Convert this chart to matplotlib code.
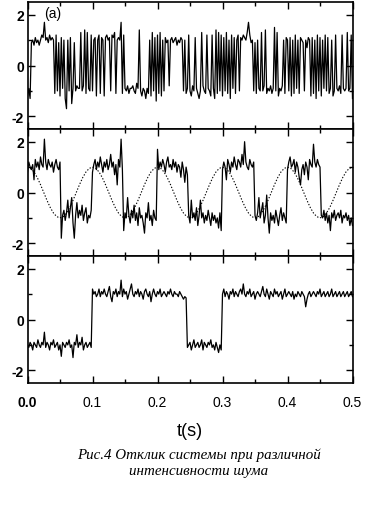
import numpy as np
import matplotlib
matplotlib.use("Agg")
import matplotlib.pyplot as plt
from matplotlib.ticker import MultipleLocator

# ---------------- data ----------------
dt = 0.002  # sampling step of the traces (s)

# panel (a): strong noise, fast hopping between the two wells
sig_a = [
    -1.2, -0.9, -1.3, 0.9, 1.0, 0.8, 1.1, 0.9, 1.0, 0.8,
    1.0, 1.2, 1.1, 1.7, 1.0, 1.1, 0.9, 1.2, 1.0, 1.1,
    1.0, -1.1, 1.2, -1.0, 0.9, -1.2, 1.1, -0.9, 1.0, -1.3,
    -1.7, 1.0, -1.0, 1.1, -1.5, -0.9, 0.9, -1.0, -0.8, -0.9,
    -0.9, 1.3, -1.0, -0.8, 1.4, -1.1, 1.3, -0.9, -1.0, 1.2,
    -1.0, 1.0, 1.1, -1.2, 1.0, 1.2, -1.1, 1.1, 1.0, -1.2,
    1.1, 1.2, 1.0, 1.1, -1.0, 1.2, 1.1, 1.3, -1.1, 1.0,
    1.1, 1.0, 1.7, -1.1, 1.2, -0.9, -1.0, -0.8, -1.1, -0.9,
    -0.9, -0.8, -1.0, -1.1, -0.7, -0.9, 1.4, -1.0, -1.2, -0.9,
    -1.0, -1.3, -0.9, -1.1, 1.0, -1.2, 1.3, -1.0, 1.1, -1.4,
    1.2, -1.1, 1.3, -1.2, 1.0, -1.0, 1.1, 0.9, 1.0, -0.8,
    1.0, 1.1, 0.9, 1.0, 1.1, 0.8, 1.0, 0.9, 1.1, 1.0,
    -1.0, 1.0, -1.1, -0.9, 1.2, -1.0, -1.2, -0.8, -1.0, 1.1,
    -0.9, -1.1, -1.3, -1.0, 1.3, -0.8, -1.0, -1.1, 1.2, -0.9,
    -1.0, -1.2, 1.2, -0.9, -1.3, 1.4, -1.1, 1.3, -1.0, 1.2,
    -1.2, 1.1, -1.0, 1.3, -1.1, 1.0, -1.3, 1.2, -0.9, 1.1,
    -1.1, 1.0, 1.2, -1.0, 1.1, 1.0, 1.2, 1.1, 1.0, 1.3,
    1.7, 1.2, 0.9, 1.0, -1.0, 0.9, -1.1, 1.0, -0.9, -1.0,
    1.3, -1.0, -0.8, 1.4, -1.1, -0.9, -1.0, -0.8, -1.1, -0.9,
    1.5, -1.0, 1.3, -1.2, -0.9, -1.0, -0.8, 1.0, -1.1, 1.1,
    1.0, -1.0, 1.1, -1.2, 1.0, -1.1, 1.2, -0.9, 1.0, -1.1,
    1.1, 1.0, 0.9, -1.0, 1.0, 0.7, 1.1, 1.0, -1.2, 1.1,
    -1.1, 1.0, -1.3, 1.2, -1.0, 1.1, -1.2, 1.0, -0.9, 1.2,
    -1.0, 1.1, -1.1, -0.9, 1.0, -1.2, -1.0, 1.2, -0.9, -1.0,
    -0.8, -1.1, 1.2, -0.9, -1.0, -0.9, 1.3, -1.0, -0.9, 1.2,
    -1.3,
]

# panel 2: optimal noise, switching locked to the periodic drive
sig_b = [
    0.8, 1.2, 1.0, 0.9, 1.1, 0.5, 1.3, 1.0, 1.2, 0.9,
    1.4, 1.1, 1.0, 2.1, 1.2, 0.9, 1.3, 1.1, 1.0, 1.2,
    0.8, 1.1, 1.3, 1.0, 0.9, 1.2, -1.8, -0.9, -0.7, -1.1,
    -0.8, -0.3, -1.0, -0.6, -0.2, -1.2, -1.8, -0.9, -0.4, -1.0,
    -0.7, -0.9, -0.5, -1.1, -0.8, -0.6, -1.2, -0.9, -1.0, -0.7,
    0.8, 1.1, 1.3, 0.9, 1.2, 1.0, 1.4, 1.1, 0.8, 1.2,
    1.0, 1.3, 0.9, 1.1, 1.5, 1.0, 1.2, 0.7, 1.1, 0.3,
    1.3, 1.0, 2.1, 0.9, -1.5, -0.8, -1.0, -0.2, -0.9, -1.2,
    -0.7, -1.0, -0.5, -1.1, -0.8, -1.3, -0.6, -1.0, -0.9, -1.2,
    -1.6, -0.8, -1.0, -0.4, -1.1, -0.9, -1.3, -0.7, -1.0, -1.1,
    1.7, 0.9, 1.2, 1.0, 1.3, 1.1, 0.8, 1.2, 1.4, 1.0,
    1.1, 0.9, 1.3, 1.0, 1.2, 0.8, 1.1, 1.0, 0.6, 1.2,
    0.9, 0.4, 1.0, 0.7, -0.9, -1.2, -0.3, -1.0, -0.8, -1.1,
    -0.6, -1.3, -0.9, -0.3, -1.0, -0.8, -1.2, -0.9, -1.1, -0.7,
    -1.0, -1.3, -0.8, -1.1, -0.9, -1.2, -1.0, -1.4, -0.8, -1.5,
    0.9, 1.2, 1.0, 0.5, 1.3, 1.1, 0.8, 1.2, 1.0, 1.4,
    1.1, 0.9, 1.3, 1.2, 1.0, 1.5, 1.1, 2.0, 1.2, 1.0,
    0.9, 1.3, 1.1, 1.0, 1.2, -0.9, -1.1, -0.8, -0.2, -1.0,
    -0.7, -0.4, -1.2, -0.9, -0.1, -1.0, -1.6, -0.8, -1.1, -0.9,
    -1.2, -0.7, -1.0, -1.3, -0.9, -0.6, -1.1, -0.8, -1.0, -1.2,
    0.9, 1.2, 1.4, 1.0, 1.1, 1.3, 0.8, 1.2, 1.0, 0.6,
    0.3, 0.9, 1.1, 0.7, 1.2, 1.0, 0.5, 1.3, 1.1, 1.0,
    1.9, 1.2, 1.0, 1.3, 1.1, 1.0, -0.9, -1.0, -0.7, -1.1,
    -0.8, -1.2, -0.9, -1.5, -0.8, -1.0, -0.7, -1.1, -0.9, -0.8,
    -1.0, -0.7, -1.2, -0.9, -1.0, -0.8, -1.1, -0.9, -1.3, -1.0,
    -1.3,
]

# periodic drive (dashed), step 0.005 s
drive_dt = 0.005
drive = [
    1.00, 0.95, 0.81, 0.59, 0.31, 0.00, -0.31, -0.59, -0.81, -0.95,
    -1.00, -0.95, -0.81, -0.59, -0.31, 0.00, 0.31, 0.59, 0.81, 0.95,
    1.00, 0.95, 0.81, 0.59, 0.31, 0.00, -0.31, -0.59, -0.81, -0.95,
    -1.00, -0.95, -0.81, -0.59, -0.31, 0.00, 0.31, 0.59, 0.81, 0.95,
    1.00, 0.95, 0.81, 0.59, 0.31, 0.00, -0.31, -0.59, -0.81, -0.95,
    -1.00, -0.95, -0.81, -0.59, -0.31, 0.00, 0.31, 0.59, 0.81, 0.95,
    1.00, 0.95, 0.81, 0.59, 0.31, 0.00, -0.31, -0.59, -0.81, -0.95,
    -1.00, -0.95, -0.81, -0.59, -0.31, 0.00, 0.31, 0.59, 0.81, 0.95,
    1.00, 0.95, 0.81, 0.59, 0.31, 0.00, -0.31, -0.59, -0.81, -0.95,
    -1.00, -0.95, -0.81, -0.59, -0.31, 0.00, 0.31, 0.59, 0.81, 0.95,
    1.00,
]

# panel 3: weak noise, rare switching
sig_c = [
    -1.0, -1.1, -0.9, -1.0, -1.2, -0.9, -1.0, -1.1, -0.8, -1.0,
    -1.1, -0.9, -1.0, -0.5, -1.1, -0.9, -1.0, -1.2, -0.9, -1.0,
    -0.8, -1.1, -1.0, -0.9, -1.2, -1.0, -1.45, -0.9, -1.0, -1.1,
    -0.9, -1.0, -0.8, -1.1, -1.0, -1.5, -0.9, -1.0, -0.6, -1.1,
    -0.9, -1.0, -0.7, -1.2, -1.0, -0.9, -1.1, -1.0, -0.9, -1.1,
    1.2, 1.0, 1.1, 0.9, 1.0, 1.2, 0.9, 1.1, 1.0, 1.2,
    1.0, 0.9, 1.1, 1.3, 0.9, 0.7, 1.1, 1.0, 1.2, 0.9,
    1.1, 1.0, 1.55, 0.9, 1.2, 1.0, 1.1, 0.8, 1.0, 1.2,
    1.4, 1.0, 0.9, 1.1, 1.0, 1.2, 0.9, 1.1, 1.0, 0.8,
    1.1, 1.2, 1.0, 0.9, 1.1, 0.7, 1.0, 1.2, 1.0, 0.9,
    1.1, 1.0, 1.2, 0.9, 1.0, 1.1, 1.0, 0.9, 1.1, 1.0,
    1.2, 1.0, 0.9, 1.1, 1.0, 1.0, 0.9, 1.1, 1.0, 0.9,
    0.8, 0.9, 0.85, -1.1, -1.0, -0.9, -1.2, -1.0, -0.8, -1.1,
    -1.0, -0.9, -1.1, -1.0, -0.8, -1.2, -0.9, -1.0, -1.1, -0.9,
    -1.0, -0.8, -1.1, -1.0, -1.2, -0.9, -1.1, -1.3, -1.0, -1.2,
    1.0, 1.2, 0.9, 1.1, 1.0, 0.8, 1.1, 1.0, 1.2, 0.9,
    1.1, 1.0, 0.9, 1.1, 1.2, 1.0, 1.4, 1.0, 0.9, 1.1,
    1.0, 1.2, 0.9, 1.0, 1.1, 0.8, 1.0, 1.1, 1.0, 0.9,
    1.1, 1.3, 1.0, 0.9, 1.2, 1.0, 0.8, 1.1, 1.0, 0.9,
    1.2, 1.0, 1.1, 0.9, 1.0, 1.1, 0.8, 1.0, 1.2, 0.9,
    1.0, 1.1, 1.0, 0.9, 1.1, 0.8, 1.0, 0.9, 1.1, 1.0,
    0.9, 1.1, 1.0, 0.9, 0.5, 0.8, 1.0, 1.1, 0.9, 1.0,
    1.1, 1.0, 0.9, 1.1, 1.0, 1.2, 0.9, 1.0, 1.1, 0.9,
    1.0, 1.1, 0.9, 1.0, 1.2, 0.9, 1.0, 1.1, 0.9, 1.0,
    1.1, 0.9, 1.0, 1.1, 0.9, 1.0, 1.1, 0.9, 1.0, 1.1,
    0.9,
]

x_ticks = [0.0, 0.1, 0.2, 0.3, 0.4, 0.5]
x_ticklabels = ["0.0", "0.1", "0.2", "0.3", "0.4", "0.5"]
y_ticks = [-2, 0, 2]
y_ticklabels = ["-2", "0", "2"]
panel_label = "(a)"
x_label = "t(s)"
caption = "Рис.4 Отклик системы при различной\nинтенсивности шума"

# ---------------- figure ----------------
plt.rcParams['font.family'] = ['Liberation Sans', 'DejaVu Sans']

W, H = 371, 510
fig = plt.figure(figsize=(W / 100, H / 100), dpi=100)

left, right = 27.5 / W, 352.5 / W
tops_px = [3, 130, 257]
ph = 127

traces = [sig_a, sig_b, sig_c]
axes = []
for i, top in enumerate(tops_px):
    ax = fig.add_axes([left, 1 - (top + ph) / H, right - left, ph / H])
    y = np.asarray(traces[i])
    t = np.arange(len(y)) * dt
    ax.plot(t, y, color='black', lw=0.9)
    if i == 1:
        d = np.asarray(drive)
        td = np.arange(len(d)) * drive_dt
        ax.plot(td, d, color='black', lw=0.8, linestyle=(0, (1.2, 1.6)))
    ax.set_xlim(0, 0.5)
    ax.set_ylim(-2.5, 2.5)
    ax.set_yticks(y_ticks)
    ax.set_yticklabels(y_ticklabels, fontsize=10, fontweight='bold')
    ax.yaxis.set_minor_locator(MultipleLocator(1))
    ax.set_xticks(x_ticks)
    ax.xaxis.set_minor_locator(MultipleLocator(0.05))
    ax.tick_params(which='both', direction='in', top=True, right=True, width=1.0)
    ax.tick_params(which='major', length=5)
    ax.tick_params(which='minor', length=3)
    ax.tick_params(axis='y', pad=2.5)
    for s in ax.spines.values():
        s.set_linewidth(1.2)
    if i < 2:
        ax.set_xticklabels([])
    else:
        ax.set_xticklabels(x_ticklabels, fontsize=10)
        ax.get_xticklabels()[0].set_fontweight('bold')
        ax.tick_params(axis='x', pad=9)
    axes.append(ax)

axes[0].text(0.05, 0.97, panel_label, transform=axes[0].transAxes,
             fontsize=10, va='top', ha='left')

fig.text(190 / W, 1 - 432 / H, x_label, fontsize=13, ha='center', va='center')
fig.text(199 / W, 1 - 463 / H, caption, fontsize=10.8, ha='center', va='center',
         family=['Liberation Serif', 'DejaVu Serif'], style='italic',
         linespacing=1.3)

fig.savefig("out.png", dpi=100)
